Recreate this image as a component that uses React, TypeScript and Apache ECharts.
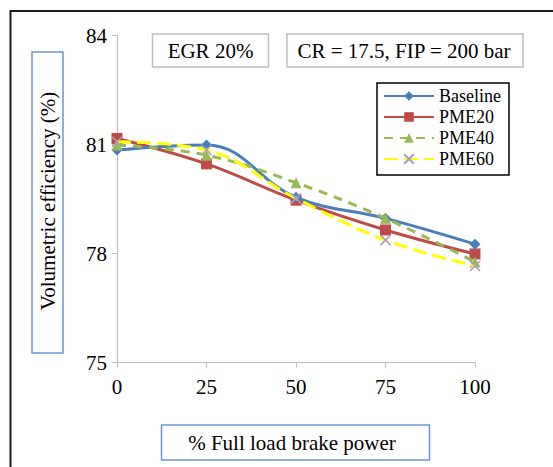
import React, { useEffect, useRef } from "react";
import * as echarts from "echarts";

const loads = [0, 25, 50, 75, 100];
const baseline = [80.85, 80.99, 79.55, 78.97, 78.26];
const pme20 = [81.17, 80.47, 79.47, 78.65, 77.99];
const pme40 = [80.99, 80.71, 79.95, 78.97, 77.77];
const pme60 = [81.08, 80.85, 79.52, 78.37, 77.66];
const seriesNames = ["Baseline", "PME20", "PME40", "PME60"];
const yMin = 75;
const yMax = 84;
const yStep = 3;
const xStep = 25;
const noteLeft = "EGR 20%";
const noteRight = "CR = 17.5, FIP = 200 bar";
const yTitle = "Volumetric efficiency (%)";
const xTitle = "% Full load brake power";

const FONT = "Liberation Serif";

const pairs = (ys: number[]) => loads.map((x, i) => [x, ys[i]]);

const txt = (text: string, x: number, y: number, rotation = 0) => ({
  type: "text",
  x,
  y,
  rotation,
  style: {
    text,
    fontFamily: FONT,
    fontSize: 21,
    fill: "#000",
    align: "center",
    verticalAlign: "middle",
  },
});

export default function App() {
  const ref = useRef<HTMLDivElement>(null);
  useEffect(() => {
    if (!ref.current) return;
    const chart = echarts.init(ref.current, undefined, { renderer: "svg" });
    chart.setOption({
      animation: false,
      backgroundColor: "#ffffff",
      textStyle: { fontFamily: FONT },
      grid: { left: 117, right: 78, top: 35.7, bottom: 104.5, containLabel: false },
      xAxis: {
        type: "value",
        min: 0,
        max: 100,
        interval: xStep,
        splitLine: { show: false },
        axisLine: { lineStyle: { color: "#bdbdbd", width: 1.2 } },
        axisTick: { show: true, length: 5, lineStyle: { color: "#bdbdbd" } },
        axisLabel: { color: "#000", fontFamily: FONT, fontSize: 21, margin: 14 },
      },
      yAxis: {
        type: "value",
        min: yMin,
        max: yMax,
        interval: yStep,
        splitLine: { show: false },
        axisLine: { show: true, lineStyle: { color: "#bdbdbd", width: 1.2 } },
        axisTick: { show: true, length: 5, lineStyle: { color: "#bdbdbd" } },
        axisLabel: { color: "#000", fontFamily: FONT, fontSize: 21, margin: 10 },
      },
      legend: {
        orient: "vertical",
        left: 377,
        top: 83,
        padding: [3, 8, 6, 6],
        itemGap: 1,
        itemWidth: 50,
        itemHeight: 12,
        backgroundColor: "#fff",
        borderColor: "#000",
        borderWidth: 1.5,
        data: seriesNames,
        textStyle: { color: "#000", fontFamily: FONT, fontSize: 18, lineHeight: 20 },
      },
      series: [
        {
          name: seriesNames[0],
          type: "line",
          data: pairs(baseline),
          smooth: 0.4,
          symbol: "diamond",
          symbolSize: 11,
          itemStyle: { color: "#4a7ebb" },
          lineStyle: { color: "#4a7ebb", width: 3 },
          z: 4,
        },
        {
          name: seriesNames[1],
          type: "line",
          data: pairs(pme20),
          smooth: 0.4,
          symbol: "rect",
          symbolSize: 11,
          itemStyle: { color: "#be4b48" },
          lineStyle: { color: "#be4b48", width: 3 },
          z: 3,
        },
        {
          name: seriesNames[2],
          type: "line",
          data: pairs(pme40),
          smooth: 0.4,
          symbol: "triangle",
          symbolSize: 11,
          itemStyle: { color: "#98b954" },
          lineStyle: { color: "#98b954", width: 3, type: [9, 7] },
          z: 5,
        },
        {
          name: seriesNames[3],
          type: "line",
          data: pairs(pme60),
          smooth: 0.4,
          symbol: "path://M0,0L10,10M10,0L0,10",
          symbolSize: 10,
          itemStyle: { color: "#a99bc6", borderColor: "#a99bc6", borderWidth: 1.5 },
          lineStyle: { color: "#ffff00", width: 3, type: [14, 6] },
          z: 6,
        },
      ],
      graphic: [
        {
          type: "rect",
          shape: { x: 10.5, y: 11, width: 620, height: 520 },
          style: { fill: "none", stroke: "#1a1a1a", lineWidth: 2 },
          z: 100,
          silent: true,
        },
        {
          type: "rect",
          shape: { x: 152.5, y: 34, width: 116, height: 33 },
          style: { fill: "#fff", stroke: "#bfbfbf", lineWidth: 1.5 },
        },
        txt(noteLeft, 210.5, 51),
        {
          type: "rect",
          shape: { x: 287, y: 34, width: 236, height: 33 },
          style: { fill: "#fff", stroke: "#bfbfbf", lineWidth: 1.5 },
        },
        txt(noteRight, 404, 51),
        {
          type: "rect",
          shape: { x: 32, y: 52, width: 31, height: 301 },
          style: { fill: "#fff", stroke: "#6f95c9", lineWidth: 1.5 },
        },
        txt(yTitle, 48, 201, Math.PI / 2),
        {
          type: "rect",
          shape: { x: 161.5, y: 425, width: 268, height: 35 },
          style: { fill: "#fff", stroke: "#6f95c9", lineWidth: 1.5 },
        },
        txt(xTitle, 292, 443),
      ],
    });
    return () => chart.dispose();
  }, []);
  return (
    <div
      ref={ref}
      style={{ position: "fixed", left: 0, top: 0, width: 553, height: 467, background: "#fff" }}
    />
  );
}
